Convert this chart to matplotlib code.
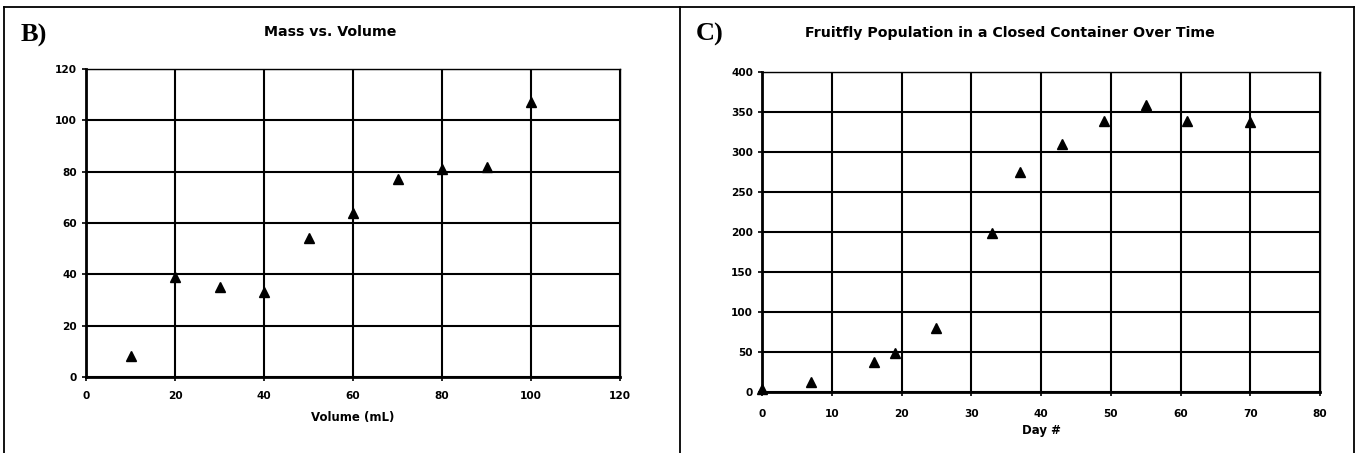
import numpy as np
import matplotlib
matplotlib.use("Agg")
import matplotlib.pyplot as plt
from matplotlib.lines import Line2D

# ----------------------------
# Data
# ----------------------------
volume_ml = [10, 20, 30, 40, 50, 60, 70, 80, 90, 100]
mass = [8, 39, 35, 33, 54, 64, 77, 81, 82, 107]

day = [0, 7, 16, 19, 25, 33, 37, 43, 49, 55, 61, 70]
flies = [4, 12, 37, 49, 80, 199, 275, 310, 339, 359, 339, 338]

W, H = 1359, 453
fig = plt.figure(figsize=(W / 100, H / 100), dpi=100)
fig.patch.set_facecolor("white")


def fx(px):
    return px / W


def fy(py):
    return 1 - py / H


def style_axes(ax, xmax, xstep, ymax, ystep, tick_pad):
    ax.set_xlim(0, xmax)
    ax.set_ylim(0, ymax)
    ax.set_xticks(np.arange(0, xmax + 1, xstep))
    ax.set_yticks(np.arange(0, ymax + 1, ystep))
    ax.grid(True, color="black", linewidth=1.5)
    ax.set_axisbelow(True)
    for side in ["left", "bottom"]:
        ax.spines[side].set_linewidth(2.0)
    for side in ["top", "right"]:
        ax.spines[side].set_linewidth(1.0)
    ax.tick_params(direction="out", length=3, width=1.2, colors="black",
                   labelsize=7.6)
    ax.tick_params(axis="x", pad=tick_pad)
    for lab in ax.get_xticklabels() + ax.get_yticklabels():
        lab.set_fontweight("bold")


# ----------------------------
# Panel B
# ----------------------------
ax1 = fig.add_axes([fx(86), fy(377), fx(620 - 86), (377 - 69) / H])
ax1.plot(volume_ml, mass, linestyle="none", marker="^", color="black",
         markersize=7, zorder=3)
style_axes(ax1, 120, 20, 120, 20, tick_pad=7)
ax1.set_xlabel("Volume (mL)", fontsize=8.5, fontweight="bold", labelpad=7)

# ----------------------------
# Panel C
# ----------------------------
ax2 = fig.add_axes([fx(762), fy(392), fx(1320 - 762), (392 - 72) / H])
ax2.plot(day, flies, linestyle="none", marker="^", color="black",
         markersize=7, zorder=3, clip_on=False)
style_axes(ax2, 80, 10, 400, 50, tick_pad=9)
ax2.set_xlabel("Day #", fontsize=8.5, fontweight="bold", labelpad=4)

# titles and panel letters
fig.text(fx(330), fy(32), "Mass vs. Volume", ha="center", va="center",
         fontsize=10.2, fontweight="bold")
fig.text(fx(1010), fy(33), "Fruitfly Population in a Closed Container Over Time",
         ha="center", va="center", fontsize=10.2, fontweight="bold")
fig.text(fx(21), fy(35), "B)", ha="left", va="center", fontsize=19,
         fontweight="bold", family="Liberation Serif")
fig.text(fx(696), fy(34), "C)", ha="left", va="center", fontsize=19,
         fontweight="bold", family="Liberation Serif")

# panel frames
frame = dict(color="black", linewidth=1.3, transform=fig.transFigure)
fig.add_artist(Line2D([fx(4), fx(1354)], [fy(7), fy(7)], **frame))
for xp in [4, 680, 1354]:
    fig.add_artist(Line2D([fx(xp), fx(xp)], [fy(7), 0], **frame))

fig.savefig("out.png", dpi=100, facecolor="white")
